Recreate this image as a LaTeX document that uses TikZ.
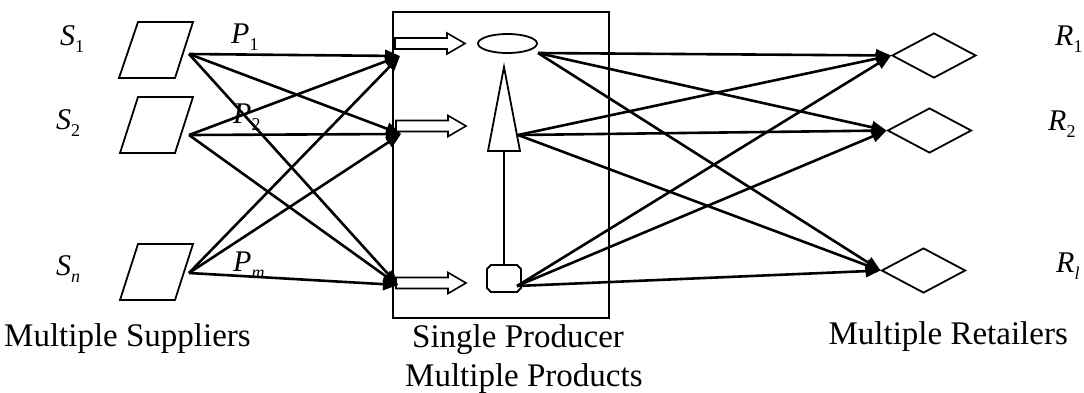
\documentclass[tikz,border=0pt]{standalone}
\usepackage{fontspec}
\setmainfont{Liberation Serif}
\usetikzlibrary{arrows.meta,shapes.geometric}
% italic letter with a lowered subscript
\newcommand\sublab[2]{\textit{#1}\raisebox{-0.26em}{\fontsize{18}{18}\selectfont #2}}
\tikzset{
  conn/.style={line width=2.6pt,-{Triangle[length=15pt,width=12pt]}},
  shape outline/.style={draw,line width=1.8pt,line join=miter},
  lab/.style={anchor=base west,inner sep=0pt,font=\fontsize{30}{30}\selectfont},
  caption/.style={inner sep=0pt,font=\fontsize{33}{33}\selectfont},
  retailer/.style={shape outline,diamond,minimum width=84pt,minimum height=45pt,inner sep=0pt},
  blockarr/.pic={\draw[line width=1.6pt,line join=miter]
    (0,-5.5) -- (52,-5.5) -- (52,-10.5) -- (70,0) -- (52,10.5) -- (52,5.5) -- (0,5.5) -- cycle;}
}
\begin{document}
\begin{tikzpicture}[x=1pt,y=-1pt]
\useasboundingbox (0,0) rectangle (1084,392);

% suppliers
\draw[shape outline] (138,22) -- (193,22) -- (175,78) -- (119,78) -- cycle;
\draw[shape outline] (138,97) -- (193,97) -- (175,153) -- (120,153) -- cycle;
\draw[shape outline] (138,244) -- (193,244) -- (175,300) -- (120,300) -- cycle;
\coordinate (s1) at (189,54);
\coordinate (s2) at (189,135);
\coordinate (sn) at (189,273);

\node[lab] (ls1) at (60,45) {\sublab{S}{1}};
\node[lab] (ls2) at (56,129) {\sublab{S}{2}};
\node[lab] (lsn) at (56,275) {\sublab{S}{\textit{n}}};

\node[lab] (lp1) at (231,43) {\sublab{P}{1}};
\node[lab] (lp2) at (233,123) {\sublab{P}{2}};
\node[lab] (lpm) at (233,271) {\sublab{P}{\textit{m}}};

% producer
\draw[line width=2pt] (393,12) rectangle (609,318);
\pic at (395,43.5) {blockarr};
\pic at (396,126) {blockarr};
\pic at (396,283) {blockarr};

\node[shape outline,ellipse,minimum width=59pt,minimum height=19pt,inner sep=0pt] (prod1) at (507.5,43.5) {};
\draw[shape outline] (504,67) -- (520,151) -- (488,151) -- cycle;
\coordinate (tribase) at (504,151);
% octagonal product box
\draw[shape outline] (491,265) -- (517,265) -- (521,269) -- (521,288) -- (517,292)
  -- (491,292) -- (487,288) -- (487,269) -- cycle;
\coordinate (octtop) at (504,265);
\draw[line width=1.6pt] (tribase) -- (octtop);

\coordinate (t1) at (400,56);
\coordinate (t2) at (401,134);
\coordinate (t3) at (398,285);

\foreach \s in {s1,s2,sn}
  \foreach \t in {t1,t2,t3}
    \draw[conn] (\s) -- (\t);

% retailers
\node[retailer] (r1) at (934,55.5) {};
\node[retailer] (r2) at (929.5,130.5) {};
\node[retailer] (rl) at (923.5,270.5) {};

\coordinate (o1) at (538,53);
\coordinate (o2) at (518,135);
\coordinate (o3) at (517,286);

\foreach \s in {o1,o2,o3}
  \foreach \t in {r1,r2,rl}
    \draw[conn] (\s) -- (\t.west);

\node[lab] (lr1) at (1055,45) {\sublab{R}{1}};
\node[lab] (lr2) at (1048,130) {\sublab{R}{2}};
\node[lab] (lrl) at (1056,272) {\sublab{R}{\textit{l}}};

% captions
\node[caption,anchor=base west] (capS) at (4,346) {Multiple Suppliers};
\node[caption,anchor=base west] (capP1) at (412,347) {Single Producer};
\node[caption,anchor=base west] (capP2) at (405,386) {Multiple Products};
\node[caption,anchor=base east] (capR) at (1068,344) {Multiple Retailers};
\end{tikzpicture}
\end{document}
